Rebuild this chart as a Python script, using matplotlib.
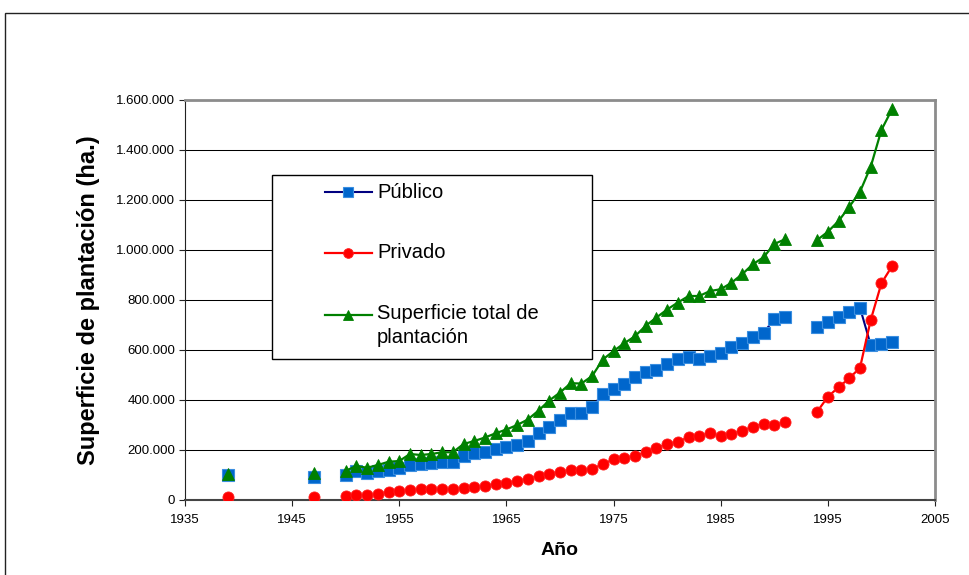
import numpy as np
import matplotlib
matplotlib.use('Agg')
import matplotlib.pyplot as plt
from matplotlib.lines import Line2D
from matplotlib.patches import Rectangle
from matplotlib.ticker import FuncFormatter, MultipleLocator

plt.rcParams['font.family'] = ['Liberation Sans', 'DejaVu Sans']

# superficie de plantacion por año (ha.)
years = [1939, 1947] + list(range(1950, 1992)) + list(range(1994, 2002))

publico = [100000, 93000,
           100000, 115000, 109000, 116000, 120000, 127000, 140000, 143000, 147000, 152000,
           152000, 176000, 187000, 193000, 203000, 213000, 222000, 238000, 267000, 293000,
           320000, 347000, 347000, 373000, 424000, 443000, 464000, 491000, 513000, 522000,
           544000, 563000, 571000, 563000, 576000, 589000, 613000, 629000, 651000, 669000,
           723000, 733000,
           693000, 713000, 733000, 751000, 769000, 620000, 623000, 633000]

privado = [11000, 12000,
           17000, 20000, 21000, 24000, 33000, 36000, 40000, 43000, 45000, 45000,
           44000, 49000, 52000, 56000, 63000, 68000, 76000, 85000, 95000, 105000,
           112000, 120000, 122000, 125000, 143000, 163000, 169000, 175000, 191000, 207000,
           224000, 233000, 251000, 256000, 267000, 256000, 263000, 277000, 293000, 304000,
           300000, 311000,
           353000, 413000, 451000, 487000, 529000, 720000, 867000, 936000]

total = [105000, 107000,
         117000, 136000, 129000, 140000, 153000, 156000, 184000, 180000, 184000, 191000,
         191000, 224000, 236000, 250000, 267000, 282000, 300000, 322000, 358000, 398000,
         430000, 467000, 466000, 496000, 562000, 596000, 627000, 655000, 697000, 730000,
         762000, 790000, 816000, 816000, 836000, 843000, 869000, 903000, 943000, 971000,
         1024000, 1043000,
         1040000, 1073000, 1116000, 1173000, 1233000, 1333000, 1480000, 1564000]

labels = ['Público', 'Privado', 'Superficie total de\nplantación']
year_ticks = list(range(1935, 2006, 10))


def with_gaps(x, y):
    # años sin dato: se corta la linea
    x = np.asarray(x, dtype=float)
    y = np.asarray(y, dtype=float)
    xs, ys = [x[0]], [y[0]]
    for i in range(1, len(x)):
        if x[i] - x[i - 1] > 1:
            xs.append(np.nan)
            ys.append(np.nan)
        xs.append(x[i])
        ys.append(y[i])
    return np.array(xs), np.array(ys)


styles = [
    dict(color='#000080', marker='s', mfc='#0066CC', mec='#3a8ee0', ms=8, mew=0.8, lw=1.5),
    dict(color='#FF0000', marker='o', mfc='#FF0000', mec='#FF2020', ms=8, mew=0.6, lw=1.6),
    dict(color='#008000', marker='^', mfc='#008000', mec='#008000', ms=8.5, mew=0.6, lw=1.6),
]

fig = plt.figure(figsize=(9.7, 5.75), dpi=100)
ax = fig.add_axes([185 / 970, 75 / 575, 750 / 970, 400 / 575])

for serie, st in zip([publico, privado, total], styles):
    xs, ys = with_gaps(years, serie)
    ax.plot(xs, ys, zorder=3, **st)

ax.set_xlim(1935, 2005)
ax.set_ylim(0, 1600000)
ax.set_xticks(year_ticks)
ax.yaxis.set_major_locator(MultipleLocator(200000))
ax.yaxis.set_major_formatter(FuncFormatter(lambda v, p: '{:,.0f}'.format(v).replace(',', '.')))
ax.tick_params(axis='both', labelsize=9.5, direction='out', length=4, width=0.8, color='#222222')
ax.tick_params(axis='x', pad=6)
ax.tick_params(axis='y', pad=3)

ax.grid(axis='y', color='black', lw=0.75)
ax.set_axisbelow(True)
for s in ['top', 'right']:
    ax.spines[s].set_color('#8c8c8c')
    ax.spines[s].set_linewidth(2)
ax.spines['left'].set_color('#222222')
ax.spines['bottom'].set_color('#444444')
ax.spines['bottom'].set_linewidth(1.5)

ax.set_ylabel('Superficie de plantación (ha.)', fontsize=17, fontweight='bold')
ax.yaxis.set_label_coords(-0.113, 0.5)
ax.set_xlabel('Año', fontsize=14, fontweight='bold')
ax.xaxis.set_label_coords(0.5, -0.105)

# leyenda
ax.add_patch(Rectangle((0.116, 0.3525), 0.4267, 0.46, transform=ax.transAxes,
                       facecolor='white', edgecolor='black', lw=1, zorder=5))
rows_y = [0.77, 0.6175, 0.4625]
for st, lab, yy in zip(styles, labels, rows_y):
    ax.add_line(Line2D([0.1867, 0.2493], [yy, yy], transform=ax.transAxes,
                       color=st['color'], lw=st['lw'], zorder=6))
    ax.add_line(Line2D([0.218], [yy], transform=ax.transAxes, marker=st['marker'],
                       mfc=st['mfc'], mec=st['mec'], ms=st['ms'] - 1, mew=st['mew'],
                       ls='none', zorder=7))
    if '\n' in lab:
        ax.text(0.256, yy + 0.027, lab, transform=ax.transAxes, fontsize=14.5,
                va='top', ha='left', zorder=7, linespacing=1.3)
    else:
        ax.text(0.256, yy, lab, transform=ax.transAxes, fontsize=14.5,
                va='center', ha='left', zorder=7)

# marco del grafico
fig.patches.append(Rectangle((5 / 970, -0.1), 1.2, 1.1 - 13 / 575, transform=fig.transFigure,
                             fill=False, edgecolor='#222222', lw=1))

fig.savefig('out.png', dpi=100)
